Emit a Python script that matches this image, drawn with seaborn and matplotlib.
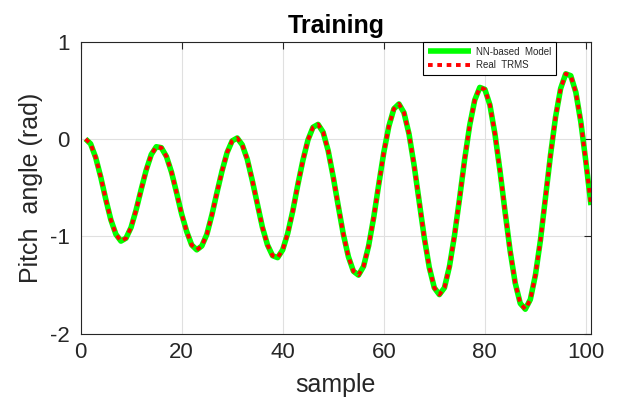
import matplotlib
matplotlib.use("Agg")
import matplotlib.pyplot as plt
import seaborn as sns
import numpy as np
import pandas as pd

# ---- data ----
sample = list(range(1, 102))
real_trms = [
    0.00, -0.05, -0.19, -0.39, -0.62, -0.83, -0.98, -1.05,            # 1-8
    -1.02, -0.91, -0.73, -0.52, -0.32, -0.16, -0.08,                  # 9-15
    -0.09, -0.18, -0.34, -0.55, -0.77, -0.95, -1.09, -1.14,           # 16-23
    -1.10, -0.98, -0.78, -0.55, -0.33, -0.14, -0.02,                  # 24-30
    0.01, -0.06, -0.21, -0.43, -0.67, -0.91, -1.09, -1.20,            # 31-38
    -1.22, -1.14, -0.97, -0.74, -0.47, -0.22, -0.01, 0.12,            # 39-46
    0.15, 0.07, -0.12, -0.39, -0.69, -0.98, -1.21, -1.36,             # 47-54
    -1.40, -1.31, -1.10, -0.81, -0.47, -0.14, 0.13, 0.31,             # 55-62
    0.36, 0.27, 0.05, -0.27, -0.64, -1.01, -1.32, -1.53, -1.60,       # 63-71
    -1.53, -1.31, -0.99, -0.61, -0.21, 0.14, 0.40, 0.53,              # 72-79
    0.51, 0.35, 0.05, -0.33, -0.75, -1.15, -1.48, -1.69,              # 80-87
    -1.75, -1.65, -1.40, -1.04, -0.60, -0.16, 0.23, 0.52, 0.67,       # 88-96
    0.65, 0.48, 0.17, -0.24, -0.68,                                   # 97-101
]
nn_model = list(real_trms)

x_ticks = [0, 20, 40, 60, 80, 100]
y_ticks = [-2, -1, 0, 1]
title = "Training"
x_label = "sample"
y_label = "Pitch  angle (rad)"
legend_labels = ["NN-based  Model", "Real  TRMS"]

df = pd.DataFrame({"sample": sample, "nn": nn_model, "real": real_trms})

sns.set_theme(style="white")
plt.rcParams["font.family"] = ["Liberation Sans", "DejaVu Sans"]

fig = plt.figure(figsize=(6.2, 4.01), dpi=100)
ax = fig.add_axes([80.5 / 620, 1 - 333.5 / 401, 510.5 / 620, (333.5 - 41.7) / 401])

sns.lineplot(data=df, x="sample", y="nn", ax=ax, color="#00ff00", linewidth=4.0,
             label=legend_labels[0], solid_capstyle="butt")
sns.lineplot(data=df, x="sample", y="real", ax=ax, color="#ff0000", linewidth=2.8,
             label=legend_labels[1], linestyle=(0, (1.2, 1.2)))

ax.set_xlim(0, 101)
ax.set_ylim(-2, 1)
ax.set_xticks(x_ticks)
ax.set_yticks(y_ticks)
ax.set_xticklabels([str(v) for v in x_ticks])
ax.set_yticklabels([str(v) for v in y_ticks])

ax.grid(True, color="#e0e0e0", linewidth=0.8)
ax.set_axisbelow(True)

ax.tick_params(axis="both", which="both", direction="in", length=5, width=0.8,
               colors="#262626", labelsize=16, top=True, right=True,
               labeltop=False, labelright=False)
ax.tick_params(axis="x", pad=6)
ax.tick_params(axis="y", pad=8)
for side in ["left", "bottom", "top", "right"]:
    ax.spines[side].set_visible(True)
    ax.spines[side].set_color("#262626")
    ax.spines[side].set_linewidth(0.8)

ax.set_title(title, fontsize=18, fontweight="bold", color="black", pad=6)
ax.set_xlabel(x_label, fontsize=18, color="#262626", labelpad=7)
ax.set_ylabel(y_label, fontsize=18, color="#262626", labelpad=5)

leg = ax.legend(loc="upper right", bbox_to_anchor=(0.931, 1.0), borderaxespad=0,
                fontsize=7, handlelength=4.4, frameon=True, fancybox=False,
                framealpha=1, edgecolor="black", borderpad=0.5, labelspacing=0.35,
                handletextpad=0.5)
leg.get_frame().set_linewidth(0.8)

fig.savefig("out.png", dpi=100)
